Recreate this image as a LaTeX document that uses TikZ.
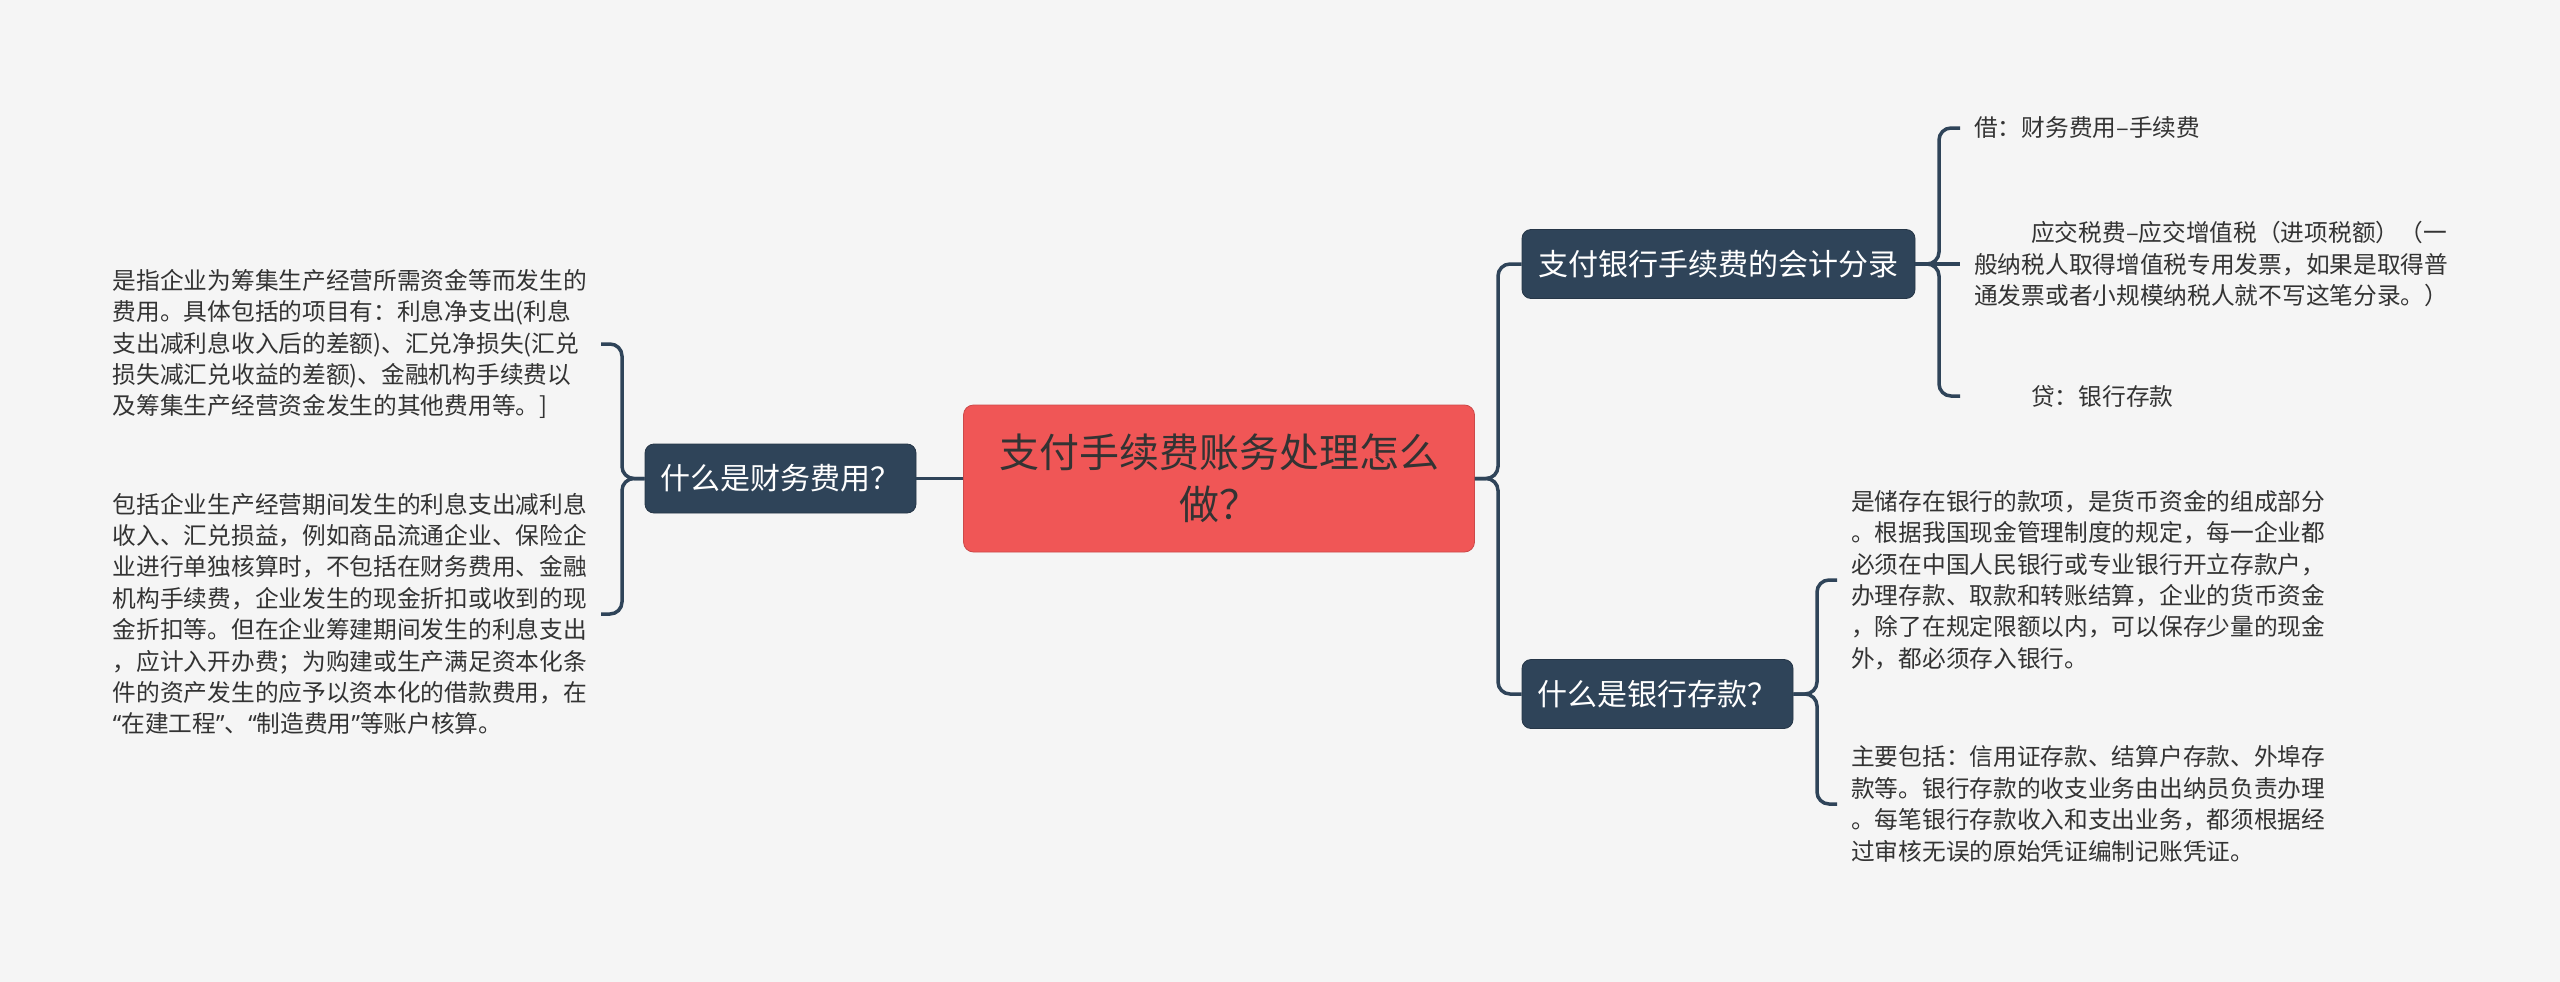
\documentclass[tikz,border=0pt]{standalone}
\usepackage{fontspec}
\setmainfont{Noto Sans CJK SC}
\newfontfamily\latq{Noto Sans}
\definecolor{bgc}{HTML}{F5F5F5}
\definecolor{slate}{HTML}{2F4459}
\definecolor{redc}{HTML}{F05656}
\definecolor{txt}{HTML}{333333}
\tikzset{
  root/.style={draw=redc!85!black, line width=0.8pt, fill=redc, rounded corners=10pt, minimum width=511pt, minimum height=147pt, align=center, text=txt, font=\fontsize{40}{52}\selectfont, inner sep=0pt},
  sub/.style={draw=slate!80!black, line width=0.8pt, fill=slate, rounded corners=9pt, minimum height=69pt, text=white, font=\fontsize{30}{36}\selectfont, inner sep=0pt},
  leaf/.style={align=left, text=txt, font=\fontsize{23.7}{31.4}\selectfont, inner xsep=14pt, inner ysep=0pt},
  link/.style={draw=slate, line width=3.5pt, rounded corners=12pt},
}
\begin{document}
\begin{tikzpicture}[x=1pt,y=-1pt]
\fill[bgc] (0,0) rectangle (2560,982);
\useasboundingbox (0,0) rectangle (2560,982);

\node[root] (c) at (1219,478.5) {支付手续费账务处理怎么\\做？};

\node[sub, minimum width=271pt] (l) at (780.5,478.5) {什么是财务费用？};
\node[sub, minimum width=393pt] (r1) at (1718.5,264) {支付银行手续费的会计分录};
\node[sub, minimum width=271pt] (r2) at (1657.5,694) {什么是银行存款？};

% left leaves
\node[leaf, anchor=east] (l1) at (601,344) {是指企业为筹集生产经营所需资金等而发生的\\费用。具体包括的项目有：利息净支出(利息\\支出减利息收入后的差额)、汇兑净损失(汇兑\\损失减汇兑收益的差额)、金融机构手续费以\\及筹集生产经营资金发生的其他费用等。]};
\node[leaf, anchor=east] (l2) at (601,614) {包括企业生产经营期间发生的利息支出减利息\\收入、汇兑损益，例如商品流通企业、保险企\\业进行单独核算时，不包括在财务费用、金融\\机构手续费，企业发生的现金折扣或收到的现\\金折扣等。但在企业筹建期间发生的利息支出\\，应计入开办费；为购建或生产满足资本化条\\件的资产发生的应予以资本化的借款费用，在\\{\latq “}在建工程{\latq ”}、{\latq “}制造费用{\latq ”}等账户核算。};

% right top leaves
\node[leaf, anchor=west] (a1) at (1960,128) {借：财务费用–手续费};
\node[leaf, anchor=west] (a2) at (1960,264) {\hspace*{57pt}应交税费–应交增值税（进项税额）（一\\般纳税人取得增值税专用发票，如果是取得普\\通发票或者小规模纳税人就不写这笔分录。）};
\node[leaf, anchor=west] (a3) at (1960,396) {\hspace*{57pt}贷：银行存款};

% right bottom leaves
\node[leaf, anchor=west] (b1) at (1837,580) {是储存在银行的款项，是货币资金的组成部分\\。根据我国现金管理制度的规定，每一企业都\\必须在中国人民银行或专业银行开立存款户，\\办理存款、取款和转账结算，企业的货币资金\\，除了在规定限额以内，可以保存少量的现金\\外，都必须存入银行。};
\node[leaf, anchor=west] (b2) at (1837,804) {主要包括：信用证存款、结算户存款、外埠存\\款等。银行存款的收支业务由出纳员负责办理\\。每笔银行存款收入和支出业务，都须根据经\\过审核无误的原始凭证编制记账凭证。};

% connectors
\draw[link] (c.west) -- (l.east);
\draw[link] (c.east) -- (1498,478.5) |- (r1.west);
\draw[link] (c.east) -- (1498,478.5) |- (r2.west);
\draw[link] (l.west) -- (622,478.5) |- (l1.east);
\draw[link] (l.west) -- (622,478.5) |- (l2.east);
\draw[link] (r1.east) -- (1939,264) |- (a1.west);
\draw[link] (r1.east) -- (a2.west);
\draw[link] (r1.east) -- (1939,264) |- (a3.west);
\draw[link] (r2.east) -- (1817,694) |- (b1.west);
\draw[link] (r2.east) -- (1817,694) |- (b2.west);
\end{tikzpicture}
\end{document}
